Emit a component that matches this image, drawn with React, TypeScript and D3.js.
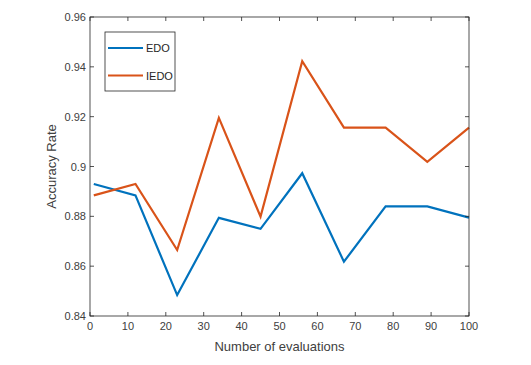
import * as d3 from "d3";

const evaluations = [1, 12, 23, 34, 45, 56, 67, 78, 89, 100];
const edo = [0.893, 0.8884, 0.8484, 0.8794, 0.875, 0.8973, 0.8618, 0.884, 0.884, 0.8795];
const iedo = [0.8884, 0.893, 0.8665, 0.9195, 0.8799, 0.9423, 0.9156, 0.9156, 0.9019, 0.9156];
const xTicks = [0, 10, 20, 30, 40, 50, 60, 70, 80, 90, 100];
const yTicks = [0.84, 0.86, 0.88, 0.9, 0.92, 0.94, 0.96];
const seriesNames = ["EDO", "IEDO"];
const colors = ["#0072BD", "#D95319"];

const W = 531;
const H = 365;
const M = { top: 17, right: 62, bottom: 49, left: 90 };
const FONT = "Arial, 'Liberation Sans', Helvetica, sans-serif";
const AXIS = "#262626";
const TEXT = "#404040";

export default function App() {
  const x = d3.scaleLinear().domain([0, 100]).range([M.left, W - M.right]);
  const y = d3.scaleLinear().domain([0.84, 0.96]).range([H - M.bottom, M.top]);
  const series = [edo, iedo];
  const line = d3
    .line<number>()
    .x((_, i) => x(evaluations[i]))
    .y((d) => y(d));

  const x0 = x(0), x1 = x(100), y0 = y(0.84), y1 = y(0.96);
  const tk = 4;

  return (
    <svg
      width={W}
      height={H}
      style={{ position: "absolute", left: 0, top: 0, background: "#fff" }}
      fontFamily={FONT}
    >
      {series.map((s, k) => (
        <path key={k} d={line(s) ?? ""} fill="none" stroke={colors[k]} strokeWidth={2.2} strokeLinejoin="miter" />
      ))}
      <rect x={x0} y={y1} width={x1 - x0} height={y0 - y1} fill="none" stroke={AXIS} strokeWidth={0.8} />
      {xTicks.map((t) => (
        <g key={t}>
          <line x1={x(t)} x2={x(t)} y1={y0} y2={y0 - tk} stroke={AXIS} strokeWidth={0.8} />
          <line x1={x(t)} x2={x(t)} y1={y1} y2={y1 + tk} stroke={AXIS} strokeWidth={0.8} />
          <text x={x(t)} y={y0 + 14} fontSize={11} fill={TEXT} textAnchor="middle">
            {t}
          </text>
        </g>
      ))}
      {yTicks.map((t) => (
        <g key={t}>
          <line x1={x0} x2={x0 + tk} y1={y(t)} y2={y(t)} stroke={AXIS} strokeWidth={0.8} />
          <line x1={x1} x2={x1 - tk} y1={y(t)} y2={y(t)} stroke={AXIS} strokeWidth={0.8} />
          <text x={x0 - 4} y={y(t) + 4} fontSize={11} fill={TEXT} textAnchor="end">
            {d3.format("")(t)}
          </text>
        </g>
      ))}
      <text x={(x0 + x1) / 2} y={351} fontSize={13} fill={TEXT} textAnchor="middle">
        Number of evaluations
      </text>
      <text
        transform={`translate(56,${(y0 + y1) / 2}) rotate(-90)`}
        fontSize={13}
        fill={TEXT}
        textAnchor="middle"
      >
        Accuracy Rate
      </text>
      <rect x={105} y={32} width={70} height={59} fill="#fff" stroke={AXIS} strokeWidth={0.8} />
      {seriesNames.map((n, k) => (
        <g key={n}>
          <line x1={108} x2={143} y1={48 + k * 27.5} y2={48 + k * 27.5} stroke={colors[k]} strokeWidth={2.2} />
          <text x={146} y={48 + k * 27.5 + 4} fontSize={11} fill={AXIS}>
            {n}
          </text>
        </g>
      ))}
    </svg>
  );
}
